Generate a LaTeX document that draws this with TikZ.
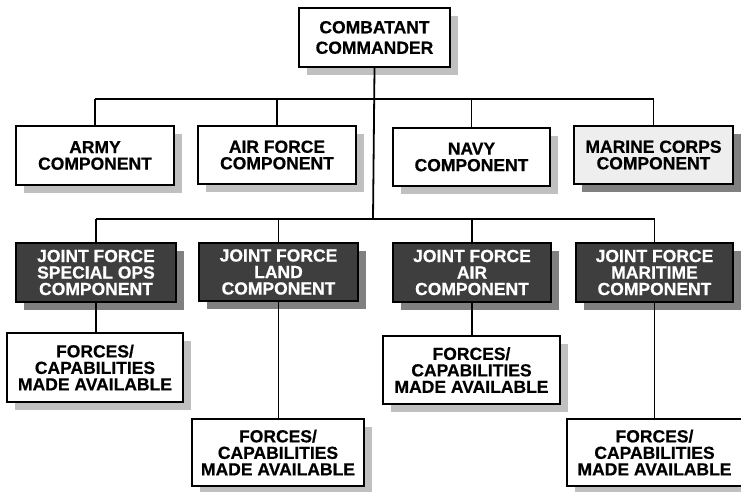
\documentclass[tikz,border=0pt]{standalone}
\usepackage{fontspec}
\setmainfont{Liberation Sans}[BoldFeatures={FakeBold=0.6}]
\usetikzlibrary{shadows}
\definecolor{darkbox}{HTML}{3E3E3E}
\definecolor{lightbox}{HTML}{EEEEEE}
\definecolor{shadowlight}{HTML}{C0C0C0}
\definecolor{shadowdark}{HTML}{808080}
\tikzset{
  unit/.style={draw, line width=2pt, fill=white, align=center, inner sep=0pt,
    font=\bfseries\fontsize{17.5}{16.5}\selectfont,
    execute at begin node={\rule{0pt}{19pt}},
    drop shadow={shadow xshift=8pt, shadow yshift=-8pt, fill=shadowlight, opacity=1}},
  jfc/.style={unit, fill=darkbox, text=white,
    drop shadow={shadow xshift=8pt, shadow yshift=-8pt, fill=shadowdark, opacity=1}},
  link/.style={line width=1.8pt}
}
\begin{document}
\begin{tikzpicture}[x=1pt, y=-1pt]
\useasboundingbox (0,0) rectangle (741,491);
	%commander
	\node[unit, minimum width=151pt, minimum height=59pt, font=\bfseries\fontsize{17.5}{20.5}\selectfont] (cc) at (374.5,37.5) {COMBATANT\\COMMANDER};
	%service components
	\node[unit, minimum width=158pt, minimum height=59pt] (army) at (95,155.5) {ARMY\\COMPONENT};
	\node[unit, minimum width=158pt, minimum height=58pt] (af) at (277,155) {AIR FORCE\\COMPONENT};
	\node[unit, minimum width=157pt, minimum height=58pt] (navy) at (471.5,157) {NAVY\\COMPONENT};
	\node[unit, minimum width=159pt, minimum height=58pt, fill=lightbox,
	  drop shadow={shadow xshift=8pt, shadow yshift=-8pt, fill=shadowdark, opacity=1}] (mc) at (653.5,155) {MARINE CORPS\\COMPONENT};
	%functional components
	\node[jfc, minimum width=160pt, minimum height=59pt] (sof) at (96,272.5) {JOINT FORCE\\SPECIAL OPS\\COMPONENT};
	\node[jfc, minimum width=159pt, minimum height=58pt] (land) at (278.5,272) {JOINT FORCE\\LAND\\COMPONENT};
	\node[jfc, minimum width=158pt, minimum height=59pt] (air) at (472,272.5) {JOINT FORCE\\AIR\\COMPONENT};
	\node[jfc, minimum width=157pt, minimum height=59pt] (mar) at (654.5,272.5) {JOINT FORCE\\MARITIME\\COMPONENT};
	%forces made available
	\node[unit, minimum width=176pt, minimum height=69pt] (sofF) at (95,367.5) {FORCES/\\CAPABILITIES\\MADE AVAILABLE};
	\node[unit, minimum width=177pt, minimum height=68pt] (airF) at (471.5,370) {FORCES/\\CAPABILITIES\\MADE AVAILABLE};
	\node[unit, minimum width=172pt, minimum height=67pt] (landF) at (278,452.5) {FORCES/\\CAPABILITIES\\MADE AVAILABLE};
	\node[unit, minimum width=175pt, minimum height=67pt] (marF) at (654.5,452.5) {FORCES/\\CAPABILITIES\\MADE AVAILABLE};
	%bus lines
	\coordinate (busA) at (373,99);
	\coordinate (busB) at (373,219);
	\draw[link] (cc.south) -- (busB);
	\draw[link] (army.north |- busA) -- (mc.north |- busA);
	\draw[link] (sof.north |- busB) -- (mar.north |- busB);
	\foreach \n in {army, af, navy, mc}
	  \draw[link] (\n.north |- busA) -- (\n.north);
	\foreach \n in {sof, land, air, mar}
	  \draw[link] (\n.north |- busB) -- (\n.north);
	\draw[link] (sof.south) -- (sofF.north -| sof.south);
	\draw[link] (land.south) -- (landF.north -| land.south);
	\draw[link] (air.south) -- (airF.north -| air.south);
	\draw[link] (mar.south) -- (marF.north -| mar.south);
\end{tikzpicture}
\end{document}
